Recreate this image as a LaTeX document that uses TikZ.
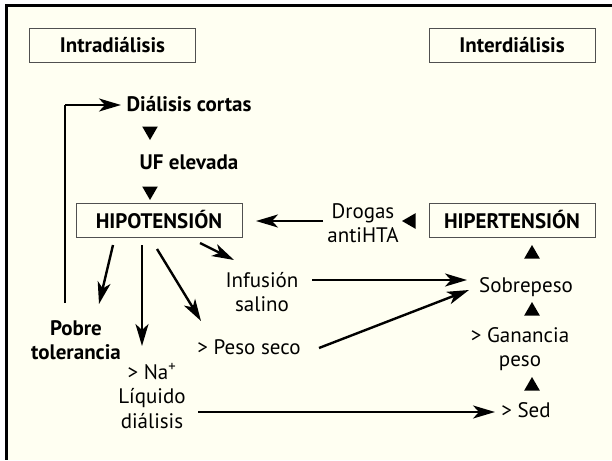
\documentclass[tikz,border=0pt]{standalone}
\usepackage{fontspec}
\setmainfont{PT Sans}
\usetikzlibrary{arrows.meta,shapes.geometric}
\definecolor{cream}{RGB}{255,255,242}
\definecolor{boxline}{RGB}{80,80,80}
\tikzset{
  x=1pt,y=-1pt,
  txt/.style={inner sep=0pt,align=center,font=\fontsize{21}{24.5}\selectfont},
  btxt/.style={txt,font=\fontsize{21}{24.5}\selectfont\bfseries},
  hbox/.style={btxt,draw=boxline,line width=0.9pt,minimum width=166pt,minimum height=34pt},
  tri/.style={regular polygon,regular polygon sides=3,fill=black,inner sep=0pt,minimum size=18pt},
  tridown/.style={tri,shape border rotate=180},
  trileft/.style={tri,shape border rotate=90},
  arr/.style={line width=2.4pt,-{Stealth[length=22pt,width=13pt,inset=6pt]}},
  ln/.style={line width=2.4pt}
}
\begin{document}
\begin{tikzpicture}
\useasboundingbox (0,0) rectangle (612,460);
\fill[white] (0,0) rectangle (612,460);
\fill[cream] (6,6) rectangle (612,460);
\draw[line width=3pt] (612,6) -- (6,6) -- (6,460);

\node[hbox] (intra) at (112.5,45) {Intradiálisis};
\node[hbox] (inter) at (512,45) {Interdiálisis};
\node[btxt] (cortas) at (189,104) {Diálisis cortas};
\node[tridown] (t1) at (150,131) {};
\node[btxt] (uf) at (189,162) {UF elevada};
\node[tridown] (t2) at (150,191) {};
\node[hbox] (hipo) at (159,220) {HIPOTENSIÓN};
\node[hbox] (hiper) at (512,220) {HIPERTENSIÓN};
\node[txt] (drogas) at (363,223) {Drogas\\antiHTA};
\node[trileft] (t3) at (411,221) {};
\node[tri] (t4) at (532,254) {};
\node[txt] (sobre) at (526,287) {Sobrepeso};
\node[tri] (t5) at (532,311) {};
\node[txt] (gan) at (520,349) {> Ganancia\\peso};
\node[tri] (t6) at (532,386) {};
\node[txt] (sed) at (526,410) {> Sed};
\node[txt] (infus) at (262,292) {Infusión\\salino};
\node[txt] (peso) at (249,347) {> Peso seco};
\node[btxt] (pobre) at (76,340) {Pobre\\tolerancia};
\node[txt] (na) at (152,396) {> Na\textsuperscript{+}\\Líquido\\diálisis};

% free ends
\coordinate (pobreTop) at (65,303);
\coordinate (corner) at (65,105);
\coordinate (cortasIn) at (121,105);
\coordinate (drogasOut) at (323,221);
\coordinate (hipoIn) at (256,221);
\coordinate (h1) at (113,245);
\coordinate (e1) at (99,304);
\coordinate (h2) at (142,245);
\coordinate (e2) at (142,346);
\coordinate (h3) at (157,249);
\coordinate (e3) at (201,321);
\coordinate (h4) at (200,243);
\coordinate (e4) at (234,260);
\coordinate (infOut) at (312,280);
\coordinate (sobIn1) at (467,280);
\coordinate (pesoOut) at (319,348);
\coordinate (sobIn2) at (469,290);
\coordinate (naOut) at (198,412);
\coordinate (sedIn) at (495,412);

\draw[ln] (pobreTop) -- (corner);
\draw[arr] (corner) -- (cortasIn);
\draw[arr] (drogasOut) -- (hipoIn);
\draw[arr] (h1) -- (e1);
\draw[arr] (h2) -- (e2);
\draw[arr] (h3) -- (e3);
\draw[arr] (h4) -- (e4);
\draw[arr] (infOut) -- (sobIn1);
\draw[arr] (pesoOut) -- (sobIn2);
\draw[arr] (naOut) -- (sedIn);
\end{tikzpicture}
\end{document}
